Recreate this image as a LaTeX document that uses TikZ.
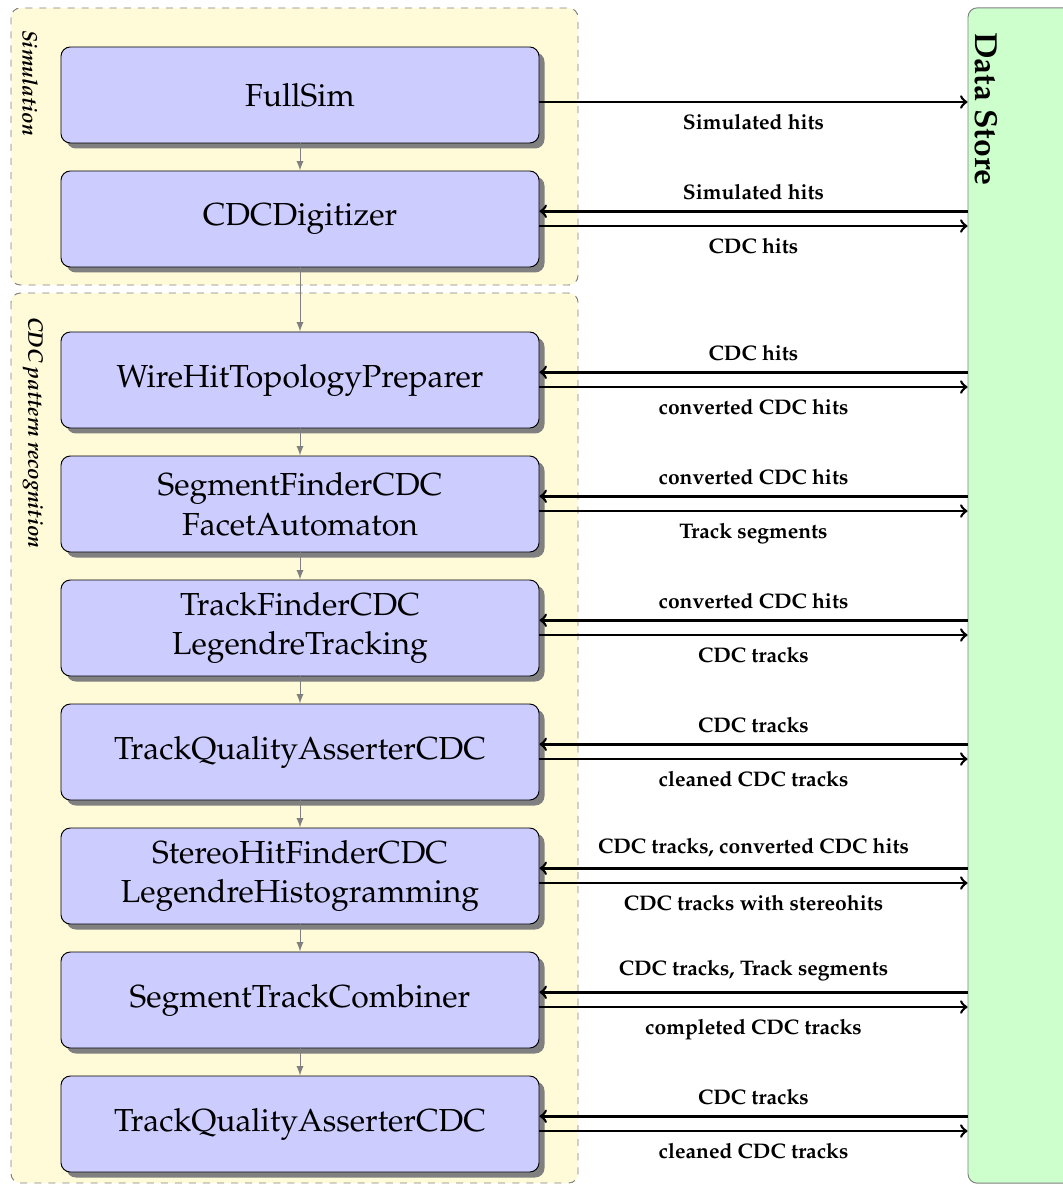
\documentclass[tikz,border=0pt]{standalone}
\usepackage[T1]{fontenc}
\usepackage{mathpazo}
\usetikzlibrary{shadows,backgrounds,positioning}

\definecolor{groupyellow}{RGB}{255,250,215}

\tikzset{
  module/.style={rectangle, rounded corners=4pt, draw=black, fill=blue!20,
    minimum width=7.17cm, minimum height=1.44cm, align=center,
    font=\fontsize{13.6}{17}\selectfont,
    drop shadow={opacity=1, fill=black!50}},
  group/.style={rounded corners=4pt, draw=gray, dashed, fill=groupyellow},
  grouplabel/.style={rotate=-90, anchor=west, font=\small\bfseries\itshape},
  store/.style={rectangle, rounded corners=4pt, draw=gray, fill=green!20,
    minimum width=1.56cm, minimum height=17.63cm},
  flow/.style={gray, -latex},
  dataio/.style={line width=1.1pt, ->},
  datalabel/.style={font=\fontsize{9}{11}\selectfont\bfseries},
}

\begin{document}
\begin{tikzpicture}[x=0.015cm, y=-0.015cm]
        \useasboundingbox (0,0) rectangle (1062,1186);

        % groups
        \draw[group] (11,8) rectangle (578,285);
        \draw[group] (11,293) rectangle (578,1183);
        \node[grouplabel] (simlabel) at (30,22) {Simulation};
        \node[grouplabel] (cdclabel) at (33,309) {CDC pattern recognition};

        % data store
        \node[store] (datastore) at (1020,595.5) {};
        \node[rotate=-90, anchor=west, font=\fontsize{13.6}{16}\selectfont\bfseries] (storelabel) at (986,24) {Data Store};

        % modules
        \node[module] (fullsim) at (300,95) {FullSim};
        \node[module] (digitizer) at (300,219) {CDCDigitizer};
        \node[module] (wirehit) at (300,380) {WireHitTopologyPreparer};
        \node[module] (segfinder) at (300,504) {SegmentFinderCDC\\FacetAutomaton};
        \node[module] (trackfinder) at (300,628) {TrackFinderCDC\\LegendreTracking};
        \node[module] (qualityA) at (300,752) {TrackQualityAsserterCDC};
        \node[module] (stereo) at (300,876) {StereoHitFinderCDC\\LegendreHistogramming};
        \node[module] (combiner) at (300,1000) {SegmentTrackCombiner};
        \node[module] (qualityB) at (300,1124) {TrackQualityAsserterCDC};

        \foreach \a/\b in {fullsim/digitizer, digitizer/wirehit, wirehit/segfinder,
          segfinder/trackfinder, trackfinder/qualityA, qualityA/stereo,
          stereo/combiner, combiner/qualityB}{
          \draw[flow] (\a.south) -- (\b.north);
        }

        % data flow to and from the store
        \draw[dataio] ([yshift=-3pt]fullsim.east) -- node[datalabel, below=1.5pt] {Simulated hits}
          ([yshift=-3pt]fullsim.east -| datastore.west);
        \foreach \m/\i/\o in {digitizer/{Simulated hits}/{CDC hits},
          wirehit/{CDC hits}/{converted CDC hits},
          segfinder/{converted CDC hits}/{Track segments},
          trackfinder/{converted CDC hits}/{CDC tracks},
          qualityA/{CDC tracks}/{cleaned CDC tracks},
          stereo/{CDC tracks, converted CDC hits}/{CDC tracks with stereohits},
          combiner/{CDC tracks, Track segments}/{completed CDC tracks},
          qualityB/{CDC tracks}/{cleaned CDC tracks}}{
          \draw[dataio] ([yshift=3.3pt]\m.east -| datastore.west) -- node[datalabel, above=1pt] {\i}
            ([yshift=3.3pt]\m.east);
          \draw[dataio] ([yshift=-3pt]\m.east) -- node[datalabel, below=1.5pt] {\o}
            ([yshift=-3pt]\m.east -| datastore.west);
        }
      \end{tikzpicture}
\end{document}
